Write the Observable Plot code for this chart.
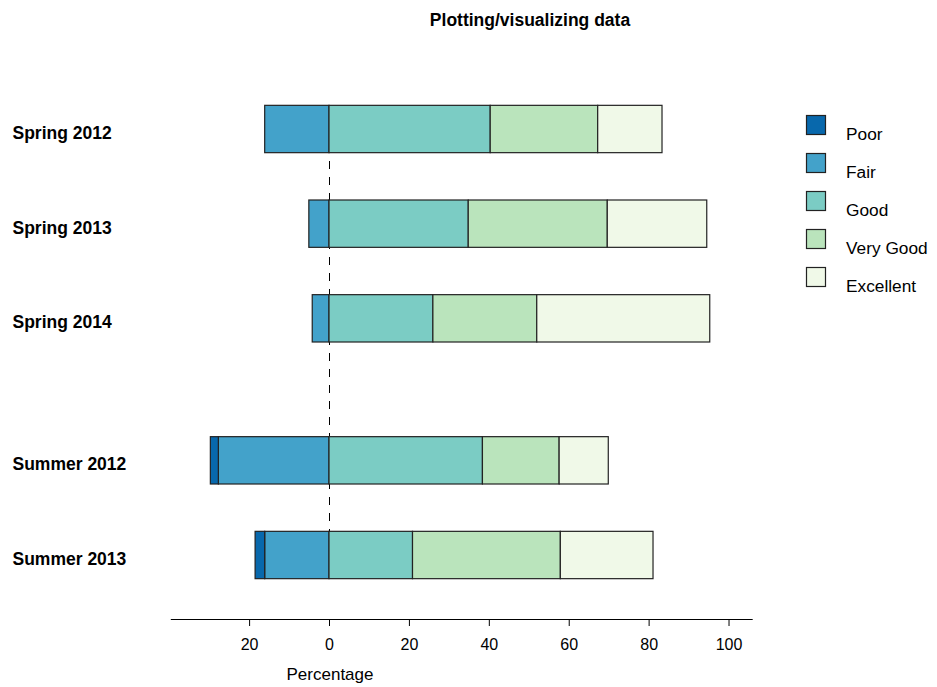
<!DOCTYPE html>
<html><head><meta charset="utf-8">
<script src="https://cdn.jsdelivr.net/npm/d3@7"></script>
<script src="https://cdn.jsdelivr.net/npm/@observablehq/plot@0.6"></script>
<style>
body{margin:0;background:#fff;font-family:"Liberation Sans",Arial,Helvetica,sans-serif;}
#wrap{position:relative;width:937px;height:687px;}
#wrap svg{position:absolute;left:0;top:0;}
</style></head><body><div id="wrap"></div>
<script>
// ---- data ----
const categories = ["Spring 2012", "Spring 2013", "Spring 2014", "Summer 2012", "Summer 2013"];
const season = ["Spring", "Spring", "Spring", "Summer", "Summer"];
const levels = ["Poor", "Fair", "Good", "Very Good", "Excellent"];
const poor = [0, 0, 0, 2.0, 2.4];
const fair = [16.1, 5.05, 4.2, 27.7, 16.1];
const good = [40.35, 34.85, 26.0, 38.4, 20.9];
const veryGood = [26.9, 34.8, 26.0, 19.2, 37.0];
const excellent = [16.1, 24.9, 43.3, 12.3, 23.2];
const xTicks = [-20, 0, 20, 40, 60, 80, 100];
const colors = ["#0868ac", "#43a2ca", "#7bccc4", "#bae4bc", "#f0f9e8"];
const title = "Plotting/visualizing data";
const xLabel = "Percentage";

// ---- build table ----
const seasons = [...new Set(season)];
const pos = categories.map((c, i) => i + 1 + 0.5 * seasons.indexOf(season[i]));
const segs = [];
categories.forEach((c, i) => {
  const p = pos[i];
  segs.push({cat: c, level: "Fair", x1: -fair[i], x2: 0, p});
  if (poor[i] > 0) segs.push({cat: c, level: "Poor", x1: -(fair[i] + poor[i]), x2: -fair[i], p});
  let acc = 0;
  [["Good", good], ["Very Good", veryGood], ["Excellent", excellent]].forEach(([lv, arr]) => {
    segs.push({cat: c, level: lv, x1: acc, x2: acc + arr[i], p});
    acc += arr[i];
  });
});
const labels = categories.map((c, i) => ({cat: c, p: pos[i]}));

const W = 937, H = 687;
const mL = 170.8, mR = 185.3, mB = 68, mT = 40;

const chart = Plot.plot({
  width: W, height: H,
  marginLeft: mL, marginRight: mR, marginBottom: mB, marginTop: mT,
  style: {fontFamily: '"Liberation Sans", Arial, sans-serif', fontSize: "16px", background: "transparent", overflow: "visible", color: "#000"},
  x: {domain: [-39.6, 105.8]},
  y: {type: "linear", domain: [1, 5.5], range: [129, 555], axis: null},
  color: {domain: levels, range: colors},
  marks: [
    Plot.ruleX([0], {y1: 1, y2: 5.5, stroke: "#000", strokeWidth: 1, strokeDasharray: "8,8"}),
    Plot.rect(segs, {x1: "x1", x2: "x2", y1: d => d.p - 0.25, y2: d => d.p + 0.25, fill: "level", stroke: "#222", strokeWidth: 1.2}),
    Plot.frame({anchor: "bottom", stroke: "#000"}),
    Plot.axisX({ticks: xTicks, tickFormat: d => Math.abs(d), tickSize: 7, tickPadding: 12, fontSize: 16, label: null, stroke: "#000", fill: "#000"}),
    Plot.text(labels, {y: "p", text: "cat", frameAnchor: "left", dx: 12 - mL, dy: 4, textAnchor: "start", fontWeight: "bold", fontSize: 17.5, fill: "#000"})
  ]
});
const wrap = document.getElementById("wrap");
wrap.appendChild(chart);

// ---- overlay: title, axis label, legend ----
const ov = d3.select(wrap).append("svg").attr("width", W).attr("height", H)
  .style("font-family", '"Liberation Sans", Arial, sans-serif');
ov.append("text").attr("x", 530).attr("y", 26).attr("text-anchor", "middle")
  .attr("font-weight", "bold").attr("font-size", 17.5).text(title);
ov.append("text").attr("x", 330).attr("y", 680).attr("text-anchor", "middle")
  .attr("font-size", 17).text(xLabel);
const lg = ov.append("g");
levels.forEach((lv, i) => {
  const y0 = 115 + i * 38;
  lg.append("rect").attr("x", 806.5).attr("y", y0 + 0.5).attr("width", 19).attr("height", 19)
    .attr("fill", colors[i]).attr("stroke", "#222").attr("stroke-width", 1.2);
  lg.append("text").attr("x", 846).attr("y", y0 + 25).attr("font-size", 17.3).text(lv);
});
</script></body></html>
